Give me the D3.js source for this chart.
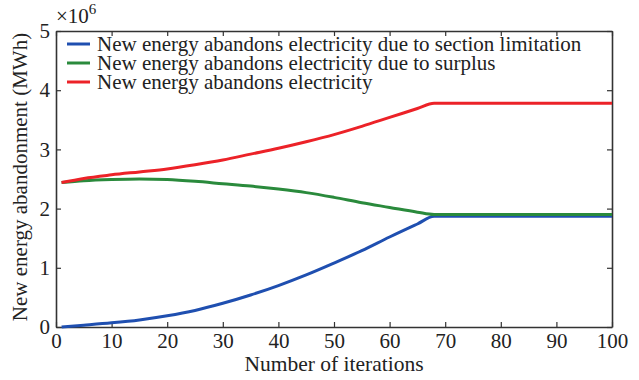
<!DOCTYPE html>
<html>
<head>
<meta charset="utf-8">
<script src="https://cdn.jsdelivr.net/npm/d3@7"></script>
<style>
  body { margin: 0; background: #fff; }
  .axis path, .axis line { stroke: #333; }
</style>
</head>
<body>
<svg id="chart" width="639" height="380"></svg>
<script>
// Abandoned new energy (x1e6 MWh) vs iteration

const SERIF = '"Liberation Serif"';

const iterations = [1, 5, 10, 15, 20, 25, 30, 35, 40, 45, 50, 55, 60, 65, 68, 70, 75, 80, 85, 90, 95, 100];

const sectionLimit = [0.00, 0.03, 0.07, 0.12, 0.19, 0.28, 0.40, 0.54, 0.70, 0.88, 1.08, 1.29, 1.52, 1.74, 1.87,
  1.87, 1.87, 1.87, 1.87, 1.87, 1.87, 1.87];
const surplus = [2.44, 2.47, 2.49, 2.50, 2.49, 2.46, 2.42, 2.38, 2.33, 2.27, 2.19, 2.10, 2.02, 1.94, 1.90,
  1.90, 1.90, 1.90, 1.90, 1.90, 1.90, 1.90];
const total = [2.44, 2.51, 2.57, 2.62, 2.67, 2.74, 2.82, 2.92, 3.02, 3.13, 3.25, 3.39, 3.54, 3.69, 3.78,
  3.78, 3.78, 3.78, 3.78, 3.78, 3.78, 3.78];

const xTicks = [0, 10, 20, 30, 40, 50, 60, 70, 80, 90, 100];
const yTicks = [0, 1, 2, 3, 4, 5];

const seriesNames = [
  'New energy abandons electricity due to section limitation',
  'New energy abandons electricity due to surplus',
  'New energy abandons electricity',
];
const seriesColors = ['#1f4fb0', '#2a8a3c', '#ec2228'];
const seriesValues = [sectionLimit, surplus, total];

// ------------------------------------------------------------
// Layout
// ------------------------------------------------------------
const margin = { left: 56, right: 27, top: 31, bottom: 53 };
const svg = d3.select('#chart');
const W = +svg.attr('width'), H = +svg.attr('height');
const iw = W - margin.left - margin.right;
const ih = H - margin.top - margin.bottom;

const x = d3.scaleLinear().domain([0, 100]).range([0, iw]);
const y = d3.scaleLinear().domain([0, 5]).range([ih, 0]);

const g = svg.append('g').attr('transform', `translate(${margin.left},${margin.top})`);

// Axes with inward ticks on all four sides
g.append('g').attr('class', 'axis')
  .attr('transform', `translate(0,${ih})`)
  .call(d3.axisBottom(x).tickValues(xTicks).tickFormat(d3.format('d'))
    .tickSizeInner(-5).tickSizeOuter(0).tickPadding(6));
g.append('g').attr('class', 'axis')
  .call(d3.axisTop(x).tickValues(xTicks).tickSizeInner(-5).tickSizeOuter(0).tickFormat(''));
g.append('g').attr('class', 'axis')
  .call(d3.axisLeft(y).tickValues(yTicks).tickFormat(d3.format('d'))
    .tickSizeInner(-5).tickSizeOuter(0).tickPadding(6));
g.append('g').attr('class', 'axis')
  .attr('transform', `translate(${iw},0)`)
  .call(d3.axisRight(y).tickValues(yTicks).tickSizeInner(-5).tickSizeOuter(0).tickFormat(''));

g.selectAll('.axis').attr('font-family', SERIF).attr('font-size', 21);
g.selectAll('.axis text').attr('fill', '#222');
g.selectAll('.axis path').attr('stroke-width', 1.6);
g.selectAll('.axis line').attr('stroke-width', 1.2);

// Lines
const line = d3.line()
  .x((d, i) => x(iterations[i]))
  .y(d => y(d))
  .curve(d3.curveMonotoneX);

seriesValues.forEach((vals, k) => {
  g.append('path')
    .datum(vals)
    .attr('fill', 'none')
    .attr('stroke', seriesColors[k])
    .attr('stroke-width', 3)
    .attr('stroke-linejoin', 'round')
    .attr('d', line);
});

// Legend (no frame)
const legend = g.append('g').attr('transform', 'translate(11,13)');
seriesNames.forEach((name, k) => {
  const row = legend.append('g').attr('transform', `translate(0,${k * 19})`);
  row.append('line')
    .attr('x1', 0).attr('x2', 23)
    .attr('stroke', seriesColors[k]).attr('stroke-width', 3);
  row.append('text')
    .attr('x', 30).attr('dy', '0.33em')
    .attr('font-family', SERIF)
    .attr('font-size', 21).attr('fill', '#222')
    .text(name);
});

// Axis titles
svg.append('text')
  .attr('x', margin.left + iw / 2).attr('y', 371)
  .attr('text-anchor', 'middle').attr('font-family', SERIF)
  .attr('font-size', 21.5).attr('fill', '#222')
  .text('Number of iterations');

svg.append('text')
  .attr('transform', `translate(27,${margin.top + ih / 2 - 2}) rotate(-90)`)
  .attr('text-anchor', 'middle').attr('font-family', SERIF)
  .attr('font-size', 21).attr('fill', '#222')
  .text('New energy abandonment (MWh)');

// Exponent label
const exp = svg.append('text')
  .attr('x', 56).attr('y', 23)
  .attr('font-family', SERIF)
  .attr('font-size', 21).attr('fill', '#222');
exp.append('tspan').text('×10');
exp.append('tspan').attr('dy', -9).attr('font-size', 15).text('6');
</script>
</body>
</html>
